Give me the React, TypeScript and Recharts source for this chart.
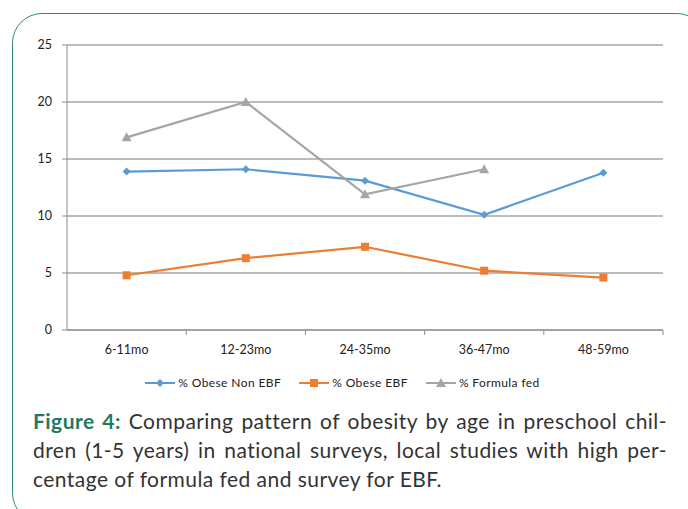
import React from 'react'
import {
  LineChart,
  Line,
  XAxis,
  YAxis,
  CartesianGrid,
  Legend,
} from 'recharts'

const ageGroups = ['6-11mo', '12-23mo', '24-35mo', '36-47mo', '48-59mo']
const obeseNonEbf = [13.9, 14.1, 13.1, 10.1, 13.8]
const obeseEbf = [4.8, 6.3, 7.3, 5.2, 4.6]
const formulaFed: (number | null)[] = [16.9, 20.0, 11.9, 14.1, null]
const yTicks = [0, 5, 10, 15, 20, 25]

const data = ageGroups.map((age, i) => ({
  age,
  nonEbf: obeseNonEbf[i],
  ebf: obeseEbf[i],
  formula: formulaFed[i],
}))

const CHART_W = 688
const CHART_H = 400
const PLOT_LEFT = 67
const PLOT_RIGHT = 25
const BAND = (CHART_W - PLOT_LEFT - PLOT_RIGHT) / ageGroups.length

const FONT = 'Lato, "Open Sans", sans-serif'
const AXIS_GRAY = '#8c8c8c'

const BLUE = '#5b9bd5'
const ORANGE = '#ed7d31'
const GRAY = '#a5a5a5'

// category label plus a tick mark on the band's right edge
function AgeTick(props: any) {
  const { x, y, payload } = props
  return (
    <g>
      <line x1={x + BAND / 2} x2={x + BAND / 2} y1={y - 8} y2={y - 3} stroke={AXIS_GRAY} />
      <text x={x} y={y + 16} textAnchor="middle" fontSize={12.5} fill="#222" fontFamily={FONT}>
        {payload.value}
      </text>
    </g>
  )
}

function Diamond(props: any) {
  const { cx, cy } = props
  if (cx == null || cy == null) return null
  const r = 4
  return <path d={`M${cx},${cy - r}L${cx + r},${cy}L${cx},${cy + r}L${cx - r},${cy}Z`} fill={BLUE} />
}

function Square(props: any) {
  const { cx, cy } = props
  if (cx == null || cy == null) return null
  return <rect x={cx - 4} y={cy - 4} width={8} height={8} fill={ORANGE} />
}

function Triangle(props: any) {
  const { cx, cy } = props
  if (cx == null || cy == null) return null
  return <path d={`M${cx},${cy - 5}L${cx + 5},${cy + 4}L${cx - 5},${cy + 4}Z`} fill={GRAY} />
}

const legendItems = [
  { label: '% Obese Non EBF', color: BLUE, shape: 'diamond' },
  { label: '% Obese EBF', color: ORANGE, shape: 'square' },
  { label: '% Formula fed', color: GRAY, shape: 'triangle' },
]

function LegendContent() {
  return (
    <div
      style={{
        display: 'flex',
        justifyContent: 'center',
        gap: 18,
        paddingLeft: 22,
        fontFamily: FONT,
        fontSize: 12,
        letterSpacing: 0.4,
        color: '#222',
      }}
    >
      {legendItems.map((item) => (
        <div key={item.label} style={{ display: 'flex', alignItems: 'center', gap: 3 }}>
          <svg width={30} height={10}>
            <line x1={0} x2={30} y1={5} y2={5} stroke={item.color} strokeWidth={2} />
            {item.shape === 'diamond' && <path d="M15,1L19,5L15,9L11,5Z" fill={item.color} />}
            {item.shape === 'square' && <rect x={11} y={1} width={8} height={8} fill={item.color} />}
            {item.shape === 'triangle' && <path d="M15,0L20,9L10,9Z" fill={item.color} />}
          </svg>
          <span>{item.label}</span>
        </div>
      ))}
    </div>
  )
}

const captionLines = [
  'Comparing pattern of obesity by age in preschool chil-',
  'dren (1-5 years) in national surveys, local studies with high per-',
  'centage of formula fed and survey for EBF.',
]

export default function App() {
  const lineStyle = (justify: boolean): React.CSSProperties => ({
    height: 29,
    lineHeight: '29px',
    textAlign: justify ? 'justify' : 'left',
    textAlignLast: justify ? 'justify' : 'left',
    whiteSpace: 'nowrap',
  })

  return (
    <div
      style={{
        position: 'fixed',
        left: 0,
        top: 0,
        width: 688,
        height: 509,
        overflow: 'hidden',
        background: '#fff',
      }}
    >
      <div
        style={{
          position: 'absolute',
          left: 12,
          top: 13,
          width: 695,
          height: 510,
          border: '1.5px solid #2f8a72',
          borderRadius: 30,
          boxSizing: 'border-box',
        }}
      />
      <div style={{ position: 'absolute', left: 0, top: 0 }}>
        <LineChart
          width={CHART_W}
          height={CHART_H}
          data={data}
          margin={{ top: 45, right: PLOT_RIGHT, left: 0, bottom: 0 }}
        >
          <CartesianGrid vertical={false} stroke="#a6a6a6" strokeWidth={1.3} />
          <XAxis
            dataKey="age"
            height={45}
            stroke={AXIS_GRAY}
            tickLine={false}
            tick={<AgeTick />}
            interval={0}
            padding={{ left: BAND / 2, right: BAND / 2 }}
          />
          <YAxis
            width={PLOT_LEFT}
            domain={[0, 25]}
            ticks={yTicks}
            stroke={AXIS_GRAY}
            tickSize={5}
            tickMargin={10}
            tick={{ fill: '#222', fontSize: 12.5, fontFamily: FONT }}
          />
          <Legend content={<LegendContent />} verticalAlign="bottom" height={25} />
          <Line
            dataKey="nonEbf"
            stroke={BLUE}
            strokeWidth={2.2}
            dot={<Diamond />}
            activeDot={false}
            isAnimationActive={false}
          />
          <Line
            dataKey="ebf"
            stroke={ORANGE}
            strokeWidth={2.2}
            dot={<Square />}
            activeDot={false}
            isAnimationActive={false}
          />
          <Line
            dataKey="formula"
            stroke={GRAY}
            strokeWidth={2.2}
            dot={<Triangle />}
            activeDot={false}
            connectNulls={false}
            isAnimationActive={false}
          />
        </LineChart>
      </div>
      <div
        style={{
          position: 'absolute',
          left: 33,
          top: 406,
          width: 634,
          fontFamily: FONT,
          fontSize: 21,
          letterSpacing: 0.45,
          color: '#333',
        }}
      >
        <div style={lineStyle(true)}>
          <span style={{ color: '#1f7a5c', fontWeight: 700 }}>Figure 4:</span> {captionLines[0]}
        </div>
        <div style={lineStyle(true)}>{captionLines[1]}</div>
        <div style={lineStyle(false)}>{captionLines[2]}</div>
      </div>
    </div>
  )
}
